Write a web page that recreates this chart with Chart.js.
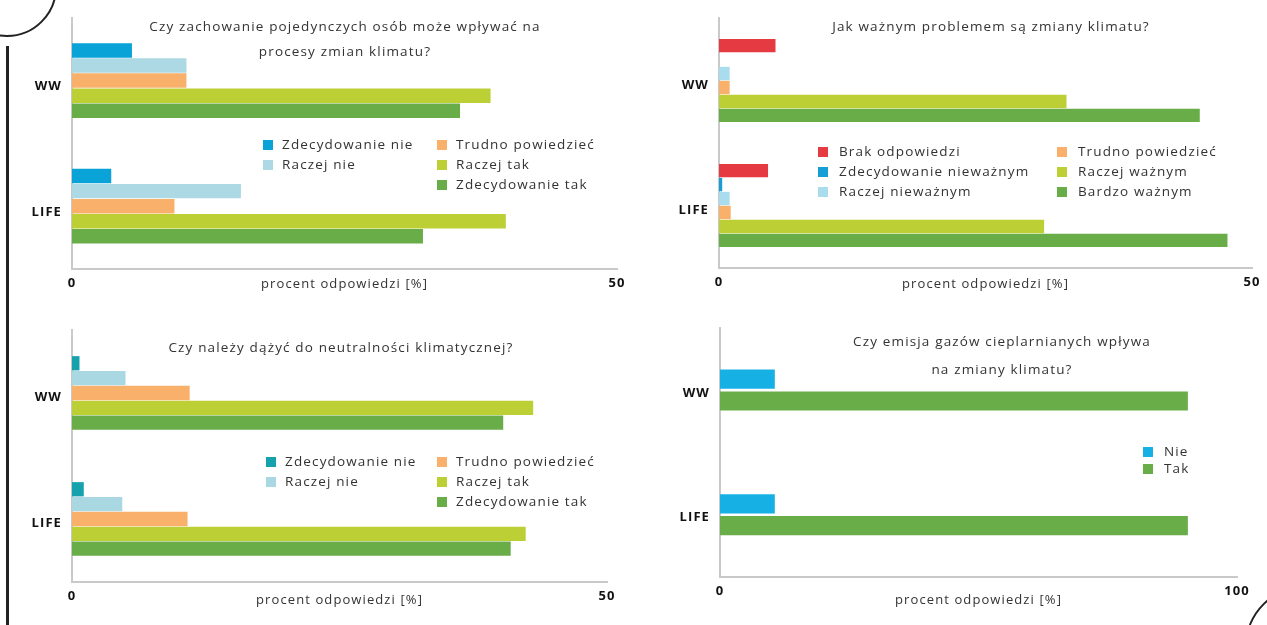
<!DOCTYPE html>
<html>
<head>
<meta charset="utf-8">
<script src="https://cdn.jsdelivr.net/npm/chart.js@4.4.1/dist/chart.umd.min.js"></script>
<style>
  html, body { margin: 0; padding: 0; background: #fff; }
  body { width: 1267px; height: 625px; position: relative; overflow: hidden; font-family: "Open Sans", sans-serif; }
  canvas { position: absolute; }
  .title { position: absolute; color: #333; font-size: 13.5px; letter-spacing: 1.15px; text-align: center; white-space: nowrap; transform: translateX(-50%); }
  .leg { position: absolute; color: #333; font-size: 13.5px; letter-spacing: 1.15px; white-space: nowrap; line-height: 14px; }
  .leg i { display: inline-block; width: 10px; height: 10px; vertical-align: -1px; }
  .deco { position: absolute; border: 2px solid #222; }
</style>
</head>
<body>
<canvas id="c1" width="640" height="310" style="left:0;top:0"></canvas>
<canvas id="c2" width="627" height="310" style="left:640px;top:0"></canvas>
<canvas id="c3" width="640" height="315" style="left:0;top:310px"></canvas>
<canvas id="c4" width="627" height="315" style="left:640px;top:310px"></canvas>

<div class="deco" style="left:-43px;top:-63px;width:96px;height:96px;border-radius:50%"></div>
<div class="deco" style="left:1245px;top:585px;width:120px;height:120px;border-radius:50%"></div>
<div style="position:absolute;left:6px;top:46px;width:3px;height:580px;background:#222"></div>

<script>
var categories = ['WW', 'LIFE']
var axisTitle = 'procent odpowiedzi [%]'

// wykres 1
var t1 = ['Czy zachowanie pojedynczych osób może wpływać na', 'procesy zmian klimatu?']
var s1 = ['Zdecydowanie nie', 'Raczej nie', 'Trudno powiedzieć', 'Raczej tak', 'Zdecydowanie tak']
var zdecNie1 = [5.5, 3.6]
var raczejNie1 = [10.5, 15.5]
var trudno1 = [10.5, 9.4]
var raczejTak1 = [38.4, 39.8]
var zdecTak1 = [35.6, 32.2]

// wykres 2
var t2 = ['Jak ważnym problemem są zmiany klimatu?']
var s2 = ['Brak odpowiedzi', 'Zdecydowanie nieważnym', 'Raczej nieważnym', 'Trudno powiedzieć', 'Raczej ważnym', 'Bardzo ważnym']
var brak2 = [5.3, 4.6]
var zdecNiewazne2 = [0, 0.3]
var raczejNiewazne2 = [1.0, 1.0]
var trudno2 = [1.0, 1.1]
var raczejWazne2 = [32.6, 30.5]
var bardzoWazne2 = [45.1, 47.7]

// wykres 3
var t3 = ['Czy należy dążyć do neutralności klimatycznej?']
var s3 = ['Zdecydowanie nie', 'Raczej nie', 'Trudno powiedzieć', 'Raczej tak', 'Zdecydowanie tak']
var zdecNie3 = [0.7, 1.1]
var raczejNie3 = [5.0, 4.7]
var trudno3 = [11.0, 10.8]
var raczejTak3 = [43.1, 42.4]
var zdecTak3 = [40.3, 41.0]

// wykres 4
var t4 = ['Czy emisja gazów cieplarnianych wpływa', 'na zmiany klimatu?']
var s4 = ['Nie', 'Tak']
var nie4 = [10.6, 10.6]
var tak4 = [90.5, 90.5]

var col1 = ['#0aa3d8', '#acd9e4', '#f8b06a', '#bccf35', '#69ad48']
var col2 = ['#e63a42', '#169fd4', '#a9dcec', '#f8b06a', '#bccf35', '#69ad48']
var col3 = ['#16a2ad', '#aad8e2', '#f8b06a', '#bccf35', '#69ad48']
var col4 = ['#17b0e4', '#69ad48']

var FONT = 'Open Sans'

var spacing = {
    id: 'spacing',
    beforeDraw: function(chart){ chart.ctx.letterSpacing = '1.1px' }
}

function makeChart(id, series, rows, colors, o){
    var ds = []
    for(var i in series){
        ds.push({label: series[i], data: rows[i], backgroundColor: colors[i],
                 barPercentage: o.bp, categoryPercentage: o.cp})
    }
    return new Chart(document.getElementById(id), {
        type: 'bar',
        data: {labels: categories, datasets: ds},
        plugins: [spacing],
        options: {
            indexAxis: 'y',
            responsive: false,
            animation: false,
            layout: {padding: {left: 0, right: o.right, top: o.top, bottom: 0}},
            plugins: {legend: {display: false}, tooltip: {enabled: false}},
            scales: {
                x: {
                    min: 0, max: o.max,
                    ticks: {stepSize: o.max, color: '#111', padding: 6, maxRotation: 0,
                            font: {family: FONT, size: 13, weight: 'bold'}},
                    grid: {display: false, drawTicks: false},
                    border: {display: true, color: '#c9c9c9', width: 2},
                    title: {display: true, text: axisTitle, color: '#333',
                            font: {family: FONT, size: 13}, padding: {top: 0, bottom: o.tb}},
                    afterFit: function(s){ s.height = o.h }
                },
                y: {
                    ticks: {color: '#111', padding: 10, labelOffset: o.lo,
                            font: {family: FONT, size: 13, weight: 'bold'}},
                    grid: {display: false, drawTicks: false},
                    border: {display: true, color: '#c9c9c9', width: 2},
                    afterFit: function(s){ s.width = o.w }
                }
            }
        }
    })
}

makeChart('c1', s1, [zdecNie1, raczejNie1, trudno1, raczejTak1, zdecTak1], col1,
    {max: 50, w: 72, h: 41, right: 23, top: 17, tb: 18, lo: 6, bp: 0.96, cp: 0.6})
makeChart('c2', s2, [brak2, zdecNiewazne2, raczejNiewazne2, trudno2, raczejWazne2, bardzoWazne2], col2,
    {max: 50, w: 79, h: 42, right: 15, top: 18, tb: 18, lo: 5, bp: 0.96, cp: 0.67})
makeChart('c3', s3, [zdecNie3, raczejNie3, trudno3, raczejTak3, zdecTak3], col3,
    {max: 50, w: 72, h: 43, right: 33, top: 20, tb: 17, lo: 4, bp: 0.96, cp: 0.59})
makeChart('c4', s4, [nie4, tak4], col4,
    {max: 100, w: 80, h: 48, right: 30, top: 15, tb: 17, lo: 3, bp: 0.88, cp: 0.35})

function addTitle(lines, cx, y, lh){
    for(var i in lines){
        var d = document.createElement('div')
        d.className = 'title'
        d.textContent = lines[i]
        d.style.left = cx + 'px'
        d.style.top = (y + i * lh - 10) + 'px'
        document.body.appendChild(d)
    }
}

function addLegend(series, colors, xs, gap, split, y0, dy){
    for(var i = 0; i < series.length; i++){
        var c = i < split ? 0 : 1
        var r = i < split ? i : i - split
        var d = document.createElement('div')
        d.className = 'leg'
        d.style.left = xs[c] + 'px'
        d.style.top = (y0 + r * dy - 8) + 'px'
        d.innerHTML = '<i style="background:' + colors[i] + ';margin-right:' + gap + 'px"></i>'
        d.appendChild(document.createTextNode(series[i]))
        document.body.appendChild(d)
    }
}

addTitle(t1, 345, 27, 25)
addTitle(t2, 991, 27, 25)
addTitle(t3, 341, 348, 25)
addTitle(t4, 1002, 342, 28)

addLegend(s1, col1, [263, 437], 9, 2, 145, 20)
addLegend(s2, col2, [818, 1057], 11, 3, 152, 20)
addLegend(s3, col3, [266, 437], 9, 2, 462, 20)
addLegend(s4, col4, [1143], 11, 2, 452, 17)
</script>
</body>
</html>
